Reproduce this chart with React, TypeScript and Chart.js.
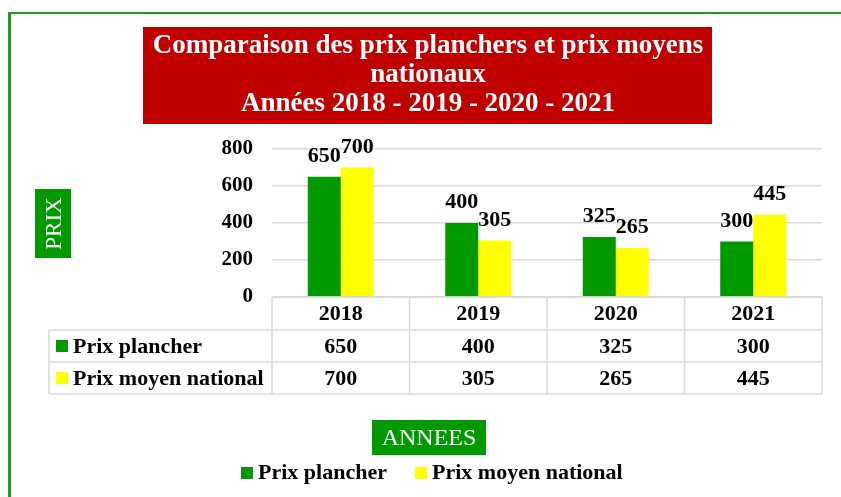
import React, { useEffect, useRef } from "react";
import { Chart, registerables } from "chart.js";

Chart.register(...registerables);

const categories = ["2018", "2019", "2020", "2021"];
const prixPlancher = [650, 400, 325, 300];
const prixMoyen = [700, 305, 265, 445];
const seriesNames = ["Prix plancher", "Prix moyen national"];
const yMin = 0;
const yMax = 800;
const yStep = 200;
const titleLines = [
  "Comparaison des prix planchers et prix moyens",
  "nationaux",
  "Années 2018 - 2019 - 2020 - 2021",
];
const yAxisTitle = "PRIX";
const xAxisTitle = "ANNEES";

const GREEN = "#009900";
const YELLOW = "#FFFF00";
const RED = "#C00000";
const BORDER_GREEN = "#1a9e1a";
const GRID = "#d9d9d9";
const FONT = "'Liberation Serif', 'Times New Roman', serif";
const W = 841;
const H = 497;

const decorPlugin = {
  id: "decor",
  beforeDraw(chart: any) {
    const ctx = chart.ctx as CanvasRenderingContext2D;
    ctx.save();
    ctx.fillStyle = "#ffffff";
    ctx.fillRect(0, 0, chart.width, chart.height);
    // outer green frame
    ctx.fillStyle = BORDER_GREEN;
    ctx.fillRect(8, 12, chart.width - 8, 2);
    ctx.fillRect(8, 12, 3, chart.height - 12);
    // title box
    ctx.fillStyle = RED;
    ctx.fillRect(143, 27, 569, 97);
    ctx.fillStyle = "#ffffff";
    ctx.font = `bold 27px ${FONT}`;
    ctx.textAlign = "center";
    ctx.textBaseline = "middle";
    titleLines.forEach((t, i) => ctx.fillText(t, 428, 46 + i * 29));
    // Y axis title box
    ctx.fillStyle = GREEN;
    ctx.fillRect(35, 189, 36, 69);
    ctx.save();
    ctx.translate(54, 223.5);
    ctx.rotate(-Math.PI / 2);
    ctx.fillStyle = "#ffffff";
    ctx.font = `23px ${FONT}`;
    ctx.textAlign = "center";
    ctx.textBaseline = "middle";
    ctx.fillText(yAxisTitle, 0, 1);
    ctx.restore();
    ctx.restore();
  },
  afterDatasetsDraw(chart: any) {
    const ctx = chart.ctx as CanvasRenderingContext2D;
    ctx.save();
    ctx.fillStyle = "#000000";
    ctx.font = `bold 22px ${FONT}`;
    ctx.textAlign = "center";
    ctx.textBaseline = "alphabetic";
    chart.data.datasets.forEach((ds: any, di: number) => {
      const meta = chart.getDatasetMeta(di);
      meta.data.forEach((bar: any, i: number) => {
        ctx.fillText(String(ds.data[i]), bar.x, bar.y - 15);
      });
    });
    ctx.restore();
  },
  afterDraw(chart: any) {
    const ctx = chart.ctx as CanvasRenderingContext2D;
    const area = chart.chartArea;
    const n = categories.length;
    const colW = (area.right - area.left) / n;
    const top = area.bottom;
    const rows = [top, top + 33, top + 65, top + 97];
    const leftEdge = 49;
    ctx.save();
    ctx.strokeStyle = GRID;
    ctx.lineWidth = 1.5;
    ctx.beginPath();
    ctx.moveTo(area.left, rows[0]);
    ctx.lineTo(area.right, rows[0]);
    for (let r = 1; r < rows.length; r++) {
      ctx.moveTo(leftEdge, rows[r]);
      ctx.lineTo(area.right, rows[r]);
    }
    for (let c = 0; c <= n; c++) {
      const x = area.left + c * colW;
      ctx.moveTo(x, rows[0]);
      ctx.lineTo(x, rows[3]);
    }
    ctx.moveTo(leftEdge, rows[1]);
    ctx.lineTo(leftEdge, rows[3]);
    ctx.stroke();

    ctx.fillStyle = "#000000";
    ctx.font = `bold 22px ${FONT}`;
    ctx.textAlign = "center";
    ctx.textBaseline = "middle";
    const xScale = chart.scales.x;
    categories.forEach((cat, i) => {
      const cx = xScale.getPixelForValue(i);
      ctx.fillText(cat, cx, (rows[0] + rows[1]) / 2 + 1);
      ctx.fillText(String(prixPlancher[i]), cx, (rows[1] + rows[2]) / 2 + 1);
      ctx.fillText(String(prixMoyen[i]), cx, (rows[2] + rows[3]) / 2 + 1);
    });
    const colors = [GREEN, YELLOW];
    ctx.textAlign = "left";
    seriesNames.forEach((name, k) => {
      const cy = (rows[k + 1] + rows[k + 2]) / 2;
      ctx.fillStyle = colors[k];
      ctx.fillRect(56, cy - 6, 12, 12);
      ctx.fillStyle = "#000000";
      ctx.fillText(name, 73, cy + 1);
    });

    // X axis title box
    ctx.fillStyle = GREEN;
    ctx.fillRect(372, 420, 114, 35);
    ctx.fillStyle = "#ffffff";
    ctx.font = `24px ${FONT}`;
    ctx.textAlign = "center";
    ctx.fillText(xAxisTitle, 429, 438.5);

    // legend
    ctx.font = `bold 22px ${FONT}`;
    ctx.textAlign = "left";
    const legendX = [241, 415];
    seriesNames.forEach((name, k) => {
      ctx.fillStyle = colors[k];
      ctx.fillRect(legendX[k], 467, 12, 12);
      ctx.fillStyle = "#000000";
      ctx.fillText(name, legendX[k] + 17, 473);
    });
    ctx.restore();
  },
};

export default function App() {
  const canvasRef = useRef<HTMLCanvasElement | null>(null);

  useEffect(() => {
    const canvas = canvasRef.current;
    if (!canvas) return;
    const chart = new Chart(canvas, {
      type: "bar",
      data: {
        labels: categories,
        datasets: [
          {
            label: seriesNames[0],
            data: prixPlancher,
            backgroundColor: GREEN,
            categoryPercentage: 0.48,
            barPercentage: 1.0,
          },
          {
            label: seriesNames[1],
            data: prixMoyen,
            backgroundColor: YELLOW,
            categoryPercentage: 0.48,
            barPercentage: 1.0,
          },
        ],
      },
      options: {
        responsive: false,
        animation: false,
        devicePixelRatio: 1,
        layout: {
          padding: { left: 0, right: 19, top: 149, bottom: 200 },
        },
        plugins: {
          legend: { display: false },
          title: { display: false },
          tooltip: { enabled: false },
        },
        scales: {
          x: { display: false },
          y: {
            min: yMin,
            max: yMax,
            ticks: {
              stepSize: yStep,
              color: "#000000",
              font: { family: FONT, size: 21, weight: "bold" },
              padding: 19,
            },
            grid: { color: GRID, lineWidth: 1.5, drawTicks: false },
            border: { display: false },
            afterFit: (scale: any) => {
              scale.width = 272;
            },
          },
        },
      },
      plugins: [decorPlugin],
    } as any);
    return () => chart.destroy();
  }, []);

  return (
    <div style={{ position: "absolute", left: 0, top: 0, width: W, height: H, background: "#fff" }}>
      <canvas ref={canvasRef} width={W} height={H} style={{ width: W, height: H, display: "block" }} />
    </div>
  );
}
